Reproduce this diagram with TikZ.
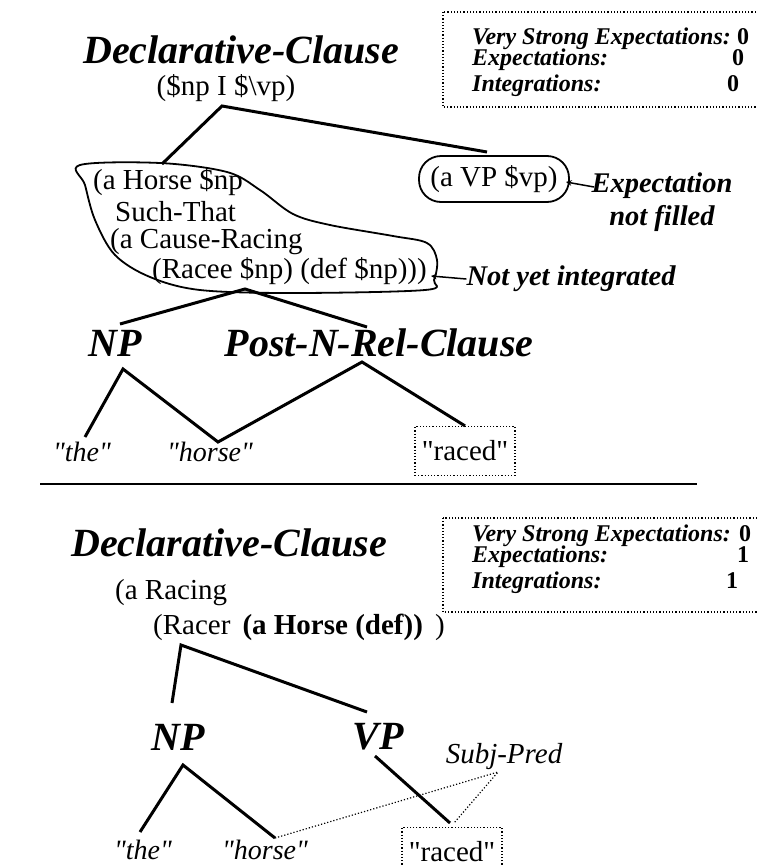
\documentclass[tikz,border=0pt]{standalone}
\usepackage{fontspec}
\setmainfont{Liberation Serif}[Ligatures=TeXOff]
\begin{document}
\begin{tikzpicture}[x=1pt,y=-1pt,>=stealth,
	tree/.style={line width=3pt},
	cat/.style={font=\fontsize{40}{42}\selectfont\bfseries\itshape, inner sep=0pt},
	sem/.style={font=\fontsize{29}{31}\selectfont, inner sep=0pt},
	word/.style={font=\fontsize{28}{30}\selectfont\itshape, inner sep=0pt},
	note/.style={font=\fontsize{28.5}{33}\selectfont\bfseries\itshape, align=center, inner sep=0pt},
	stat/.style={font=\fontsize{24}{25}\selectfont\bfseries\itshape, anchor=base west, inner sep=0pt},
	statnum/.style={font=\fontsize{24}{25}\selectfont\bfseries, anchor=base, inner sep=0pt},
	wordbox/.style={draw, dotted, line width=1.2pt, minimum width=100pt, minimum height=49pt, inner sep=0pt, font=\fontsize{29}{31}\selectfont}]
	\useasboundingbox (0,0) rectangle (757,865);
	% upper parse: after "the horse raced"
	\node[cat] (dc1) at (241,50) {Declarative-Clause};
	\node[sem] (s1) at (226,88) {(\$np I \$\textbackslash vp)};
	\coordinate (s1b) at (222,106);
	\draw[line width=1.8pt] plot[smooth cycle, tension=0.55] coordinates {(80,165) (160,163) (227,172) (260,190) (293,214) (330,225) (393,236) (427,243) (437,260) (434,280) (425,290) (293,293) (200,290) (150,277) (115,255) (95,220) (85,185)};
	\coordinate (bt) at (162,164);
	\coordinate (bb) at (245,289);
	\coordinate (btip) at (431,276);
	\node[sem,anchor=west] (h1) at (93,182) {(a Horse \$np};
	\node[sem,anchor=west] (h2) at (115,212) {Such-That};
	\node[sem,anchor=west] (h3) at (110,242) {(a Cause-Racing};
	\node[sem,anchor=west] (h4) at (152,271) {(Racee \$np) (def \$np)))};
	\node[sem, draw, line width=1.8pt, rounded corners=22pt, minimum width=150pt, minimum height=46pt] (vp1) at (494,179) {(a VP \$vp)};
	\coordinate (vpt) at (487,152);
	\coordinate (vptip) at (566,182);
	\draw[tree] (bt) -- (s1b) -- (vpt);
	\node[note] (exp) at (662,202) {Expectation\\ not filled};
	\coordinate (expa) at (594,187);
	\draw[->, line width=1.5pt] (expa) -- (vptip);
	\node[note] (nyi) at (571,279) {Not yet integrated};
	\draw[->, line width=1.5pt] (nyi.west) -- (btip);
	% syntactic level
	\node[cat] (np1) at (115,343) {NP};
	\node[cat] (pn1) at (379,343) {Post-N-Rel-Clause};
	\coordinate (np1t) at (120,324);
	\coordinate (pn1t) at (367,327);
	\draw[tree] (np1t) -- (bb) -- (pn1t);
	\coordinate (np1b) at (123,369);
	\coordinate (pn1b) at (362,362);
	\node[word] (the1) at (82,452) {"the"};
	\node[word] (hor1) at (210,452) {"horse"};
	\node[wordbox] (rac1) at (465,451) {"raced"};
	\coordinate (the1t) at (85,437);
	\coordinate (hor1t) at (218,442);
	\draw[tree] (the1t) -- (np1b) -- (hor1t) -- (pn1b) -- (rac1.north);
	% counts
	\draw[dotted, line width=1.2pt] (443,12) rectangle (762,107);
	\node[stat] (vs1) at (472,44) {Very Strong Expectations:};
	\node[stat] (ex1) at (472,65) {Expectations:};
	\node[stat] (in1) at (472,91) {Integrations:};
	\node[statnum] (vs1n) at (743,44) {0};
	\node[statnum] (ex1n) at (738,65) {0};
	\node[statnum] (in1n) at (733,91) {0};
	% separator
	\draw[line width=1.3pt] (40,484) -- (697,484);
	% lower parse: "raced" as main verb
	\node[cat] (dc2) at (229,543) {Declarative-Clause};
	\node[sem,anchor=west] (r1) at (115,593) {(a Racing};
	\node[sem,anchor=west] (r2) at (153,627) {(Racer\ \,\textbf{(a Horse (def))}\ \,)};
	\coordinate (r2b) at (181,645);
	\node[cat] (np2) at (178,737) {NP};
	\node[cat] (vp2) at (378,737) {VP};
	\coordinate (np2t) at (172,703);
	\coordinate (vp2t) at (367,712);
	\draw[tree] (np2t) -- (r2b) -- (vp2t);
	\coordinate (np2b) at (183,765);
	\coordinate (vp2b) at (375,756);
	\node[word] (the2) at (143,850) {"the"};
	\node[word] (hor2) at (265,850) {"horse"};
	\node[wordbox] (rac2) at (452,852) {"raced"};
	\coordinate (the2t) at (140,832);
	\coordinate (hor2t) at (275,838);
	\coordinate (rac2t) at (450,823);
	\draw[tree] (the2t) -- (np2b) -- (hor2t);
	\draw[tree] (vp2b) -- (rac2t);
	\node[word, font=\fontsize{29}{31}\selectfont\itshape] (sp) at (504,757) {Subj-Pred};
	\coordinate (spb) at (498,772);
	\coordinate (rac2d) at (454,823);
	\draw[dotted, line width=1.2pt] (hor2t) -- (spb) -- (rac2d);
	% counts
	\draw[dotted, line width=1.2pt] (443,518) rectangle (762,612);
	\node[stat] (vs2) at (472,541) {Very Strong Expectations:};
	\node[stat] (ex2) at (472,562) {Expectations:};
	\node[stat] (in2) at (472,588) {Integrations:};
	\node[statnum] (vs2n) at (745,541) {0};
	\node[statnum] (ex2n) at (743,562) {1};
	\node[statnum] (in2n) at (732,588) {1};
\end{tikzpicture}
\end{document}
